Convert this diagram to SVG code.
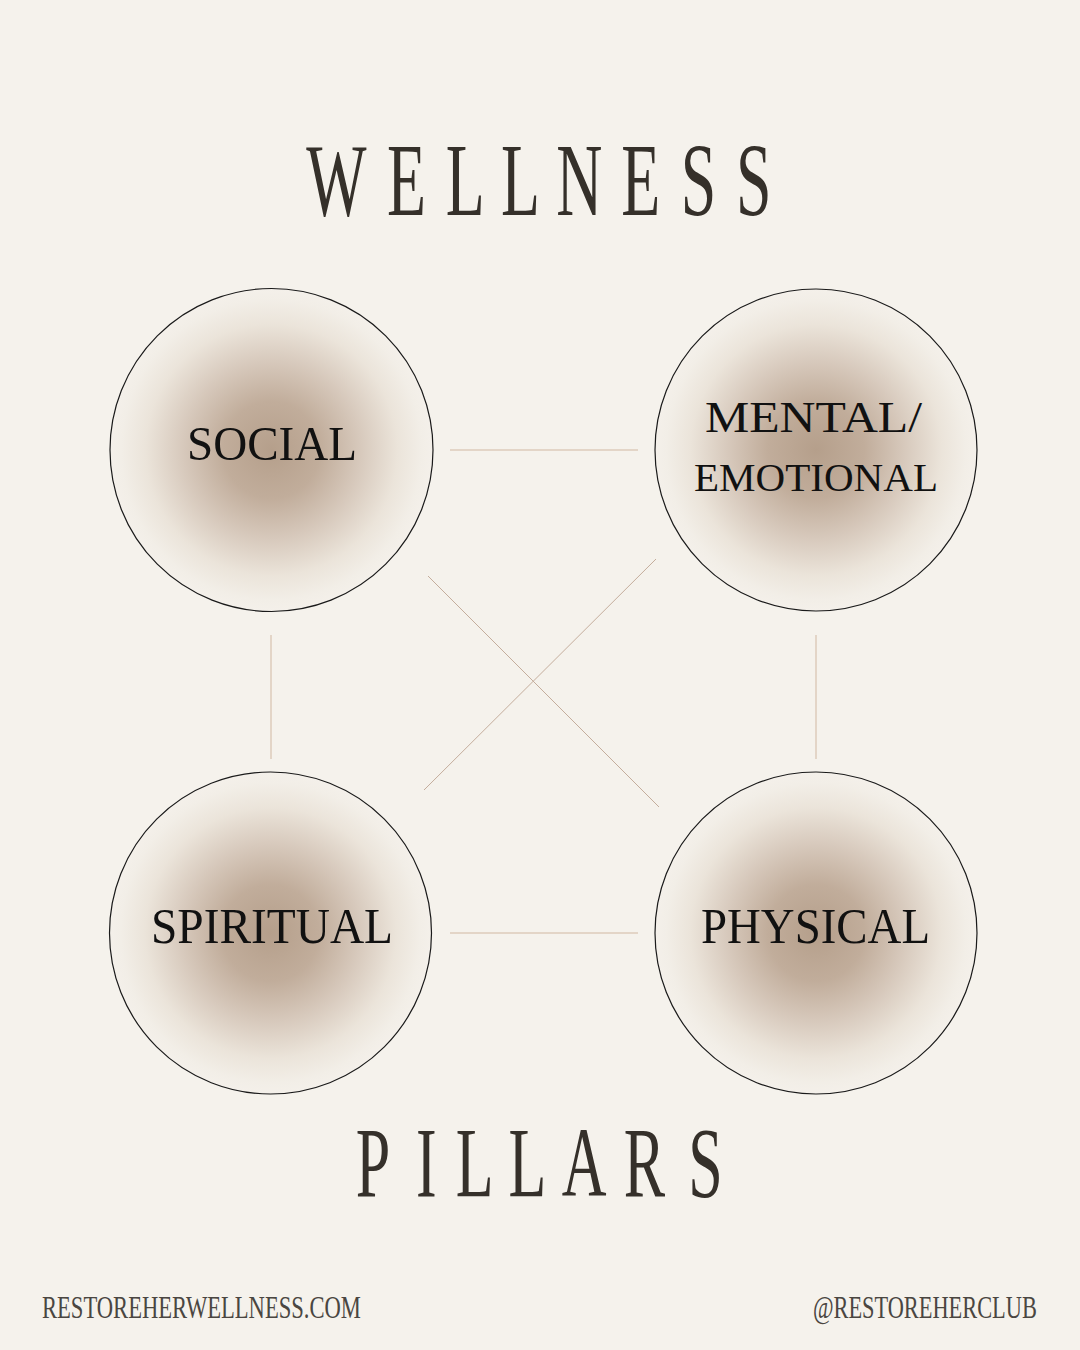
<svg xmlns="http://www.w3.org/2000/svg" width="1080" height="1350" viewBox="0 0 1080 1350">
<defs>
<style>
.title{font-family:"Liberation Serif","Times New Roman",serif;fill:#35302a;}
.lbl{font-family:"Liberation Serif","Times New Roman",serif;fill:#111;text-anchor:start;}
.foot{font-family:"Liberation Serif","Times New Roman",serif;fill:#4a4641;font-size:31px;}
.ring{stroke:#1a1a1a;stroke-width:1.2;fill:url(#glow);}
.conn{stroke:#dccbbb;stroke-width:1.5;fill:none;}
.diag{stroke:#c4ad9c;stroke-width:1;fill:none;}
</style>
<radialGradient id="glow" cx="0.5" cy="0.5" r="0.5">
<stop offset="0" stop-color="#b59f8b"/>
<stop offset="0.3" stop-color="#c1ad9b"/>
<stop offset="0.55" stop-color="#d7c9bc"/>
<stop offset="0.78" stop-color="#ebe4da"/>
<stop offset="0.93" stop-color="#f2eee7"/>
<stop offset="1" stop-color="#f4f0ea"/>
</radialGradient>
</defs>
<rect width="1080" height="1350" fill="#f5f2ec"/>

<g id="title-wellness" transform="scale(0.62 1)">
<text class="title" font-size="103" y="215" x="494 624 719 808 897 1002 1098 1187">WELLNESS</text>
</g>

<g id="connectors">
<line class="conn" x1="450" y1="450" x2="638" y2="450"/>
<line class="conn" x1="450" y1="933" x2="638" y2="933"/>
<line class="conn" x1="271" y1="635" x2="271" y2="759"/>
<line class="conn" x1="816" y1="635" x2="816" y2="759"/>
<line class="diag" x1="428" y1="576" x2="659" y2="807"/>
<line class="diag" x1="656" y1="559" x2="424" y2="790"/>
</g>

<g id="node-social">
<circle class="ring" cx="271.5" cy="450" r="161.5"/>
<text class="lbl" font-size="49" x="187" y="460" textLength="170" lengthAdjust="spacingAndGlyphs">SOCIAL</text>
</g>

<g id="node-mental">
<circle class="ring" cx="816" cy="450" r="161"/>
<text class="lbl" font-size="45" x="705" y="432" textLength="217" lengthAdjust="spacingAndGlyphs">MENTAL/</text>
<text class="lbl" font-size="41" x="694" y="491" textLength="244" lengthAdjust="spacingAndGlyphs">EMOTIONAL</text>
</g>

<g id="node-spiritual">
<circle class="ring" cx="270.5" cy="933" r="161"/>
<text class="lbl" font-size="50" x="151" y="943" textLength="242" lengthAdjust="spacingAndGlyphs">SPIRITUAL</text>
</g>

<g id="node-physical">
<circle class="ring" cx="816" cy="933" r="161"/>
<text class="lbl" font-size="50" x="701" y="943" textLength="229" lengthAdjust="spacingAndGlyphs">PHYSICAL</text>
</g>

<g id="title-pillars" transform="scale(0.62 1)">
<text class="title" font-size="100" y="1196" x="574 671 735 820 906 1006 1110">PILLARS</text>
</g>

<g id="footer" transform="scale(0.72 1)">
<text class="foot" x="58.3" y="1318" textLength="443" lengthAdjust="spacingAndGlyphs">RESTOREHERWELLNESS.COM</text>
<text class="foot" x="1129" y="1318" textLength="311" lengthAdjust="spacingAndGlyphs">@RESTOREHERCLUB</text>
</g>
</svg>
